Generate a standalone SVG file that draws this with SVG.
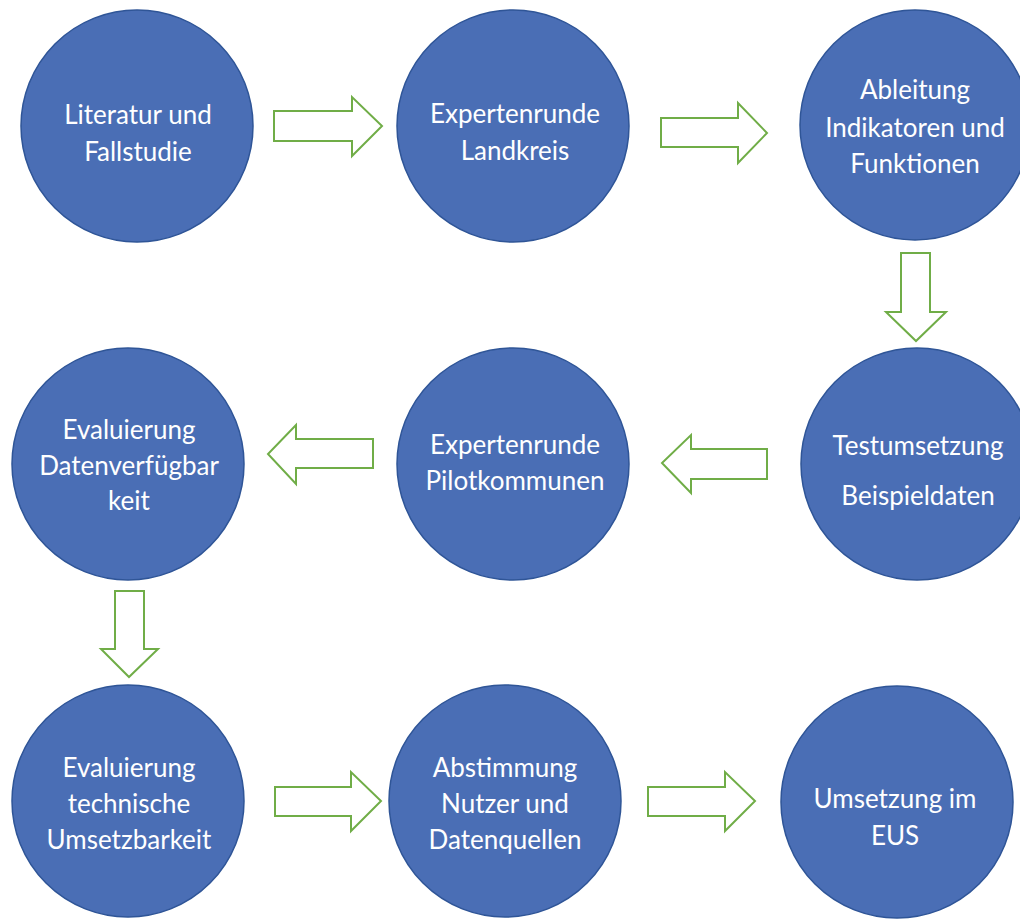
<svg xmlns="http://www.w3.org/2000/svg" width="1020" height="919" viewBox="0 0 1020 919">
<style>
.node{fill:#4A6EB5;stroke:#2F5597;stroke-width:1.5}
.lbl{font-family:Lato,"Liberation Sans",sans-serif;font-size:26px;fill:#FFFFFF;text-anchor:middle}
.arr{fill:#FFFFFF;stroke:#70AD47;stroke-width:2;stroke-linejoin:miter}
</style>
<rect width="1020" height="919" fill="#FFFFFF"/>
<g id="n1"><circle class="node" cx="137" cy="126" r="116"/>
<text class="lbl" x="138" y="124">Literatur und</text><text class="lbl" x="138" y="161">Fallstudie</text></g>
<g id="n2"><circle class="node" cx="513" cy="126" r="116"/>
<text class="lbl" x="515" y="123">Expertenrunde</text><text class="lbl" x="515" y="160">Landkreis</text></g>
<g id="n3"><circle class="node" cx="915" cy="125" r="115"/>
<text class="lbl" x="915" y="99">Ableitung</text><text class="lbl" x="915" y="137">Indikatoren und</text><text class="lbl" x="915" y="173">Funktionen</text></g>
<g id="n4"><circle class="node" cx="917" cy="464" r="116"/>
<text class="lbl" x="918" y="455">Testumsetzung</text><text class="lbl" x="918" y="505">Beispieldaten</text></g>
<g id="n5"><circle class="node" cx="513" cy="464" r="116"/>
<text class="lbl" x="515" y="454">Expertenrunde</text><text class="lbl" x="515" y="490">Pilotkommunen</text></g>
<g id="n6"><circle class="node" cx="128" cy="464" r="116"/>
<text class="lbl" x="129" y="439">Evaluierung</text><text class="lbl" x="129" y="475">Datenverfügbar</text><text class="lbl" x="129" y="510">keit</text></g>
<g id="n7"><circle class="node" cx="128" cy="801" r="116"/>
<text class="lbl" x="129" y="777">Evaluierung</text><text class="lbl" x="129" y="813">technische</text><text class="lbl" x="129" y="849">Umsetzbarkeit</text></g>
<g id="n8"><circle class="node" cx="505" cy="801" r="116"/>
<text class="lbl" x="505" y="777">Abstimmung</text><text class="lbl" x="505" y="813">Nutzer und</text><text class="lbl" x="505" y="849">Datenquellen</text></g>
<g id="n9"><circle class="node" cx="897" cy="802" r="116"/>
<text class="lbl" x="895" y="808">Umsetzung im</text><text class="lbl" x="895" y="845">EUS</text></g>
<g id="connectors">
<polygon class="arr" points="274,111 352,111 352,97 382,126 352,156 352,141 274,141"/>
<polygon class="arr" points="661,118 738,118 738,103 767,133 738,163 738,147 661,147"/>
<polygon class="arr" points="901,253 930,253 930,312 946,312 916,341 886,312 901,312"/>
<polygon class="arr" points="767,449 691,449 691,435 662,463 691,493 691,479 767,479"/>
<polygon class="arr" points="373,439 296,439 296,425 268,454 296,484 296,468 373,468"/>
<polygon class="arr" points="115,591 144,591 144,649 158,649 129,677 101,649 115,649"/>
<polygon class="arr" points="275,787 351,787 351,772 381,801 351,831 351,816 275,816"/>
<polygon class="arr" points="648,787 725,787 725,772 755,801 725,831 725,816 648,816"/>
</g>
</svg>
